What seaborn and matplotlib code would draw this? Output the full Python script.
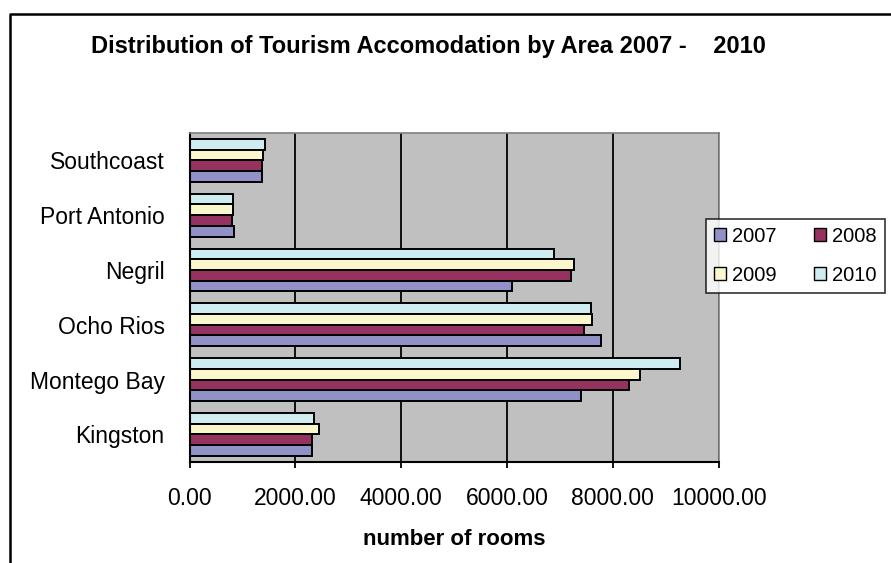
import pandas as pd
import seaborn as sns
import matplotlib.pyplot as plt
from matplotlib.patches import Patch
from matplotlib.lines import Line2D

# Values
areas = ['Kingston', 'Montego Bay', 'Ocho Rios', 'Negril', 'Port Antonio', 'Southcoast']
years = ['2007', '2008', '2009', '2010']
rooms_2007 = [2323, 7401, 7771, 6091, 832, 1363]
rooms_2008 = [2323, 8299, 7454, 7212, 801, 1363]
rooms_2009 = [2444, 8521, 7616, 7274, 826, 1388]
rooms_2010 = [2350, 9263, 7582, 6896, 826, 1419]
colors = ['#9191C8', '#953260', '#FAF7CD', '#CFECF0']

rows = []
for yr, vals in zip(years, [rooms_2007, rooms_2008, rooms_2009, rooms_2010]):
    for a, v in zip(areas, vals):
        rows.append({'area': a, 'year': yr, 'rooms': v})
df = pd.DataFrame(rows)

sns.set_style('white')
plt.rcParams['font.family'] = ['Liberation Sans', 'DejaVu Sans']
plt.rcParams['text.color'] = 'black'
plt.rcParams['xtick.color'] = 'black'
plt.rcParams['ytick.color'] = 'black'
plt.rcParams['axes.labelcolor'] = 'black'

fig = plt.figure(figsize=(8.91, 5.63), dpi=100)
ax = fig.add_axes([0.2127, 0.1799, 0.5938, 0.5839])
ax.set_facecolor('#C0C0C0')

pal = dict(zip(years, colors))
sns.barplot(data=df, x='rooms', y='area', hue='year',
            order=areas[::-1], hue_order=years[::-1], palette=pal,
            edgecolor='black', linewidth=1.4, width=0.78, saturation=1,
            legend=False, ax=ax)

ax.set_xlim(0, 10000)
ax.set_ylim(len(areas) - 0.5, -0.5)
ax.set_xticks(range(0, 10001, 2000))
ax.set_xticklabels([f'{v:.2f}' for v in range(0, 10001, 2000)])
ax.xaxis.grid(True, color='black', linewidth=1.3)
ax.set_axisbelow(True)

ax.tick_params(axis='y', which='major', length=0, pad=18, labelsize=16.5)
ax.set_yticks([i + 0.5 for i in range(-1, len(areas))], minor=True)
ax.tick_params(axis='y', which='minor', direction='out', length=5, width=1.3, color='black')
ax.tick_params(axis='x', direction='out', length=4, width=1.3, color='black', pad=14, labelsize=16.5, bottom=True)
ax.set_ylabel('')
ax.set_xlabel('number of rooms', fontsize=16, fontweight='bold', labelpad=14)

for s in ['left', 'bottom']:
    ax.spines[s].set_color('black')
    ax.spines[s].set_linewidth(1.5)
for s in ['top', 'right']:
    ax.spines[s].set_color('#808080')
    ax.spines[s].set_linewidth(1.2)

fig.text(428 / 891, 1 - 47 / 563, 'Distribution of Tourism Accomodation by Area 2007 -    2010',
         ha='center', va='center', fontsize=17, fontweight='bold')

handles = [Patch(facecolor=pal[y], edgecolor='black', linewidth=1) for y in years]
order = [0, 2, 1, 3]
leg = fig.legend([handles[i] for i in order], [years[i] for i in order], ncol=2,
                 loc='lower left', bbox_to_anchor=(0.792, 0.48, 0.201, 0.12), mode='expand',
                 fontsize=14.5, frameon=True, fancybox=False, edgecolor='black',
                 handlelength=0.6, handleheight=0.6, handletextpad=0.3,
                 borderaxespad=0, columnspacing=0.8, labelspacing=1.0)
leg.get_frame().set_linewidth(1.2)

# chart area border
fig.add_artist(Line2D([10 / 891, 10 / 891, 1.0], [0.0, 1 - 14 / 563, 1 - 14 / 563],
                      transform=fig.transFigure, color='black', linewidth=1.8))

fig.savefig('out.png', dpi=100)
